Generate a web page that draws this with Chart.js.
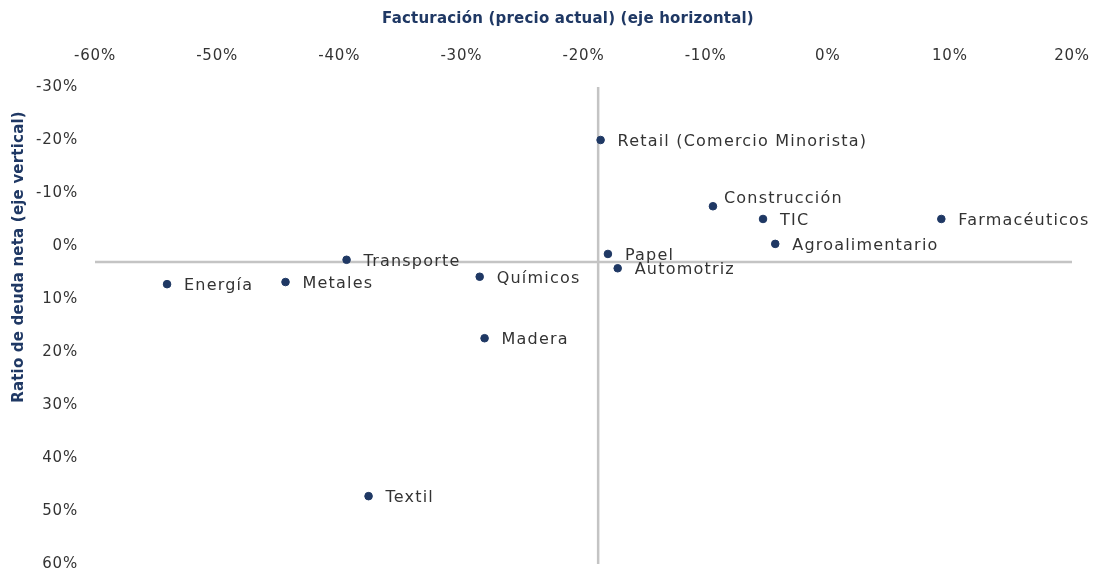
<!DOCTYPE html>
<html><head><meta charset="utf-8">
<script src="https://cdn.jsdelivr.net/npm/chart.js@4.4.0/dist/chart.umd.min.js"></script>
<style>html,body{margin:0;padding:0;background:#fff}#wrap{width:1107px;height:572px;position:relative}</style>
</head><body><div id="wrap"><canvas id="c"></canvas></div>
<script>
// ---- Data ----
const sectors = ['Retail (Comercio Minorista)','Construcción','TIC','Farmacéuticos','Agroalimentario','Papel','Automotriz','Transporte','Químicos','Energía','Metales','Madera','Textil'];
const revenueChange = [-18.6,-9.4,-5.3,9.3,-4.3,-18.0,-17.2,-39.4,-28.5,-54.1,-44.4,-28.1,-37.6];
const netDebtRatio = [-20.0,-7.5,-5.1,-5.1,-0.4,1.5,4.2,2.6,5.8,7.2,6.8,17.4,47.2];
const xRange = [-60, 20];
const yRange = [-30, 60];
const crossX = -18.8;
const crossY = 3.0;
const xTitle = 'Facturación (precio actual) (eje horizontal)';
const yTitle = 'Ratio de deuda neta (eje vertical)';

// ---- Styling ----
const FONT = "'DejaVu Sans', sans-serif";
const NAVY = '#1f3864';
const TEXT = '#333333';
const GRAYLINE = '#c4c4c4';
const labelOffsets = { 'Construcción': [11, -7] };

const points = sectors.map((s, i) => ({ x: revenueChange[i], y: netDebtRatio[i], label: s }));

const spacingPlugin = {
  id: 'spacing',
  beforeDraw(chart) { chart.ctx.letterSpacing = '0.8px'; }
};

const labelPlugin = {
  id: 'pointLabels',
  afterDatasetsDraw(chart) {
    const ctx = chart.ctx;
    const meta = chart.getDatasetMeta(0);
    ctx.save();
    ctx.letterSpacing = '1.2px';
    ctx.font = '16px ' + FONT;
    ctx.fillStyle = TEXT;
    ctx.textAlign = 'left';
    ctx.textBaseline = 'middle';
    meta.data.forEach((el, i) => {
      const name = sectors[i];
      const off = labelOffsets[name] || [17, 2];
      ctx.fillText(name, el.x + off[0], el.y + off[1]);
    });
    ctx.restore();
  }
};

const titlePlugin = {
  id: 'axisTitles',
  afterDraw(chart) {
    const ctx = chart.ctx;
    ctx.save();
    ctx.letterSpacing = '0.2px';
    ctx.font = 'bold 15px ' + FONT;
    ctx.fillStyle = NAVY;
    ctx.textAlign = 'center';
    ctx.textBaseline = 'middle';
    ctx.fillText(xTitle, 568, 19);
    ctx.translate(19, 257);
    ctx.rotate(-Math.PI / 2);
    ctx.fillText(yTitle, 0, 0);
    ctx.restore();
  }
};

new Chart(document.getElementById('c'), {
  type: 'scatter',
  data: {
    datasets: [
      {
        data: points,
        backgroundColor: NAVY,
        borderColor: NAVY,
        pointRadius: 3.8,
        pointHoverRadius: 3.8,
        order: 0
      },
      {
        type: 'line',
        data: [{ x: crossX, y: yRange[0] }, { x: crossX, y: yRange[1] }],
        borderColor: GRAYLINE,
        borderWidth: 2.5,
        pointRadius: 0,
        showLine: true,
        order: 1
      },
      {
        type: 'line',
        data: [{ x: xRange[0], y: crossY }, { x: xRange[1], y: crossY }],
        borderColor: GRAYLINE,
        borderWidth: 2.5,
        pointRadius: 0,
        showLine: true,
        order: 1
      }
    ]
  },
  options: {
    responsive: true,
    maintainAspectRatio: false,
    animation: false,
    events: [],
    layout: { padding: { left: 0, top: 0, right: 35, bottom: 8 } },
    plugins: { legend: { display: false }, tooltip: { enabled: false } },
    scales: {
      x: {
        type: 'linear',
        position: 'top',
        min: xRange[0],
        max: xRange[1],
        grid: { display: false, drawTicks: false },
        border: { display: false },
        ticks: {
          stepSize: 10,
          autoSkip: false,
          maxRotation: 0,
          padding: 22,
          color: TEXT,
          font: { family: FONT, size: 15 },
          callback: v => v + '%'
        },
        afterFit: s => { s.height = 87; s.paddingLeft = 0; s.paddingRight = 0; }
      },
      y: {
        type: 'linear',
        reverse: true,
        min: yRange[0],
        max: yRange[1],
        grid: { display: false, drawTicks: false },
        border: { display: false },
        ticks: {
          stepSize: 10,
          autoSkip: false,
          padding: 17,
          color: TEXT,
          font: { family: FONT, size: 15 },
          callback: v => v + '%'
        },
        afterFit: s => { s.width = 95; s.paddingTop = 0; s.paddingBottom = 0; }
      }
    }
  },
  plugins: [spacingPlugin, labelPlugin, titlePlugin]
});
</script>
</body></html>
